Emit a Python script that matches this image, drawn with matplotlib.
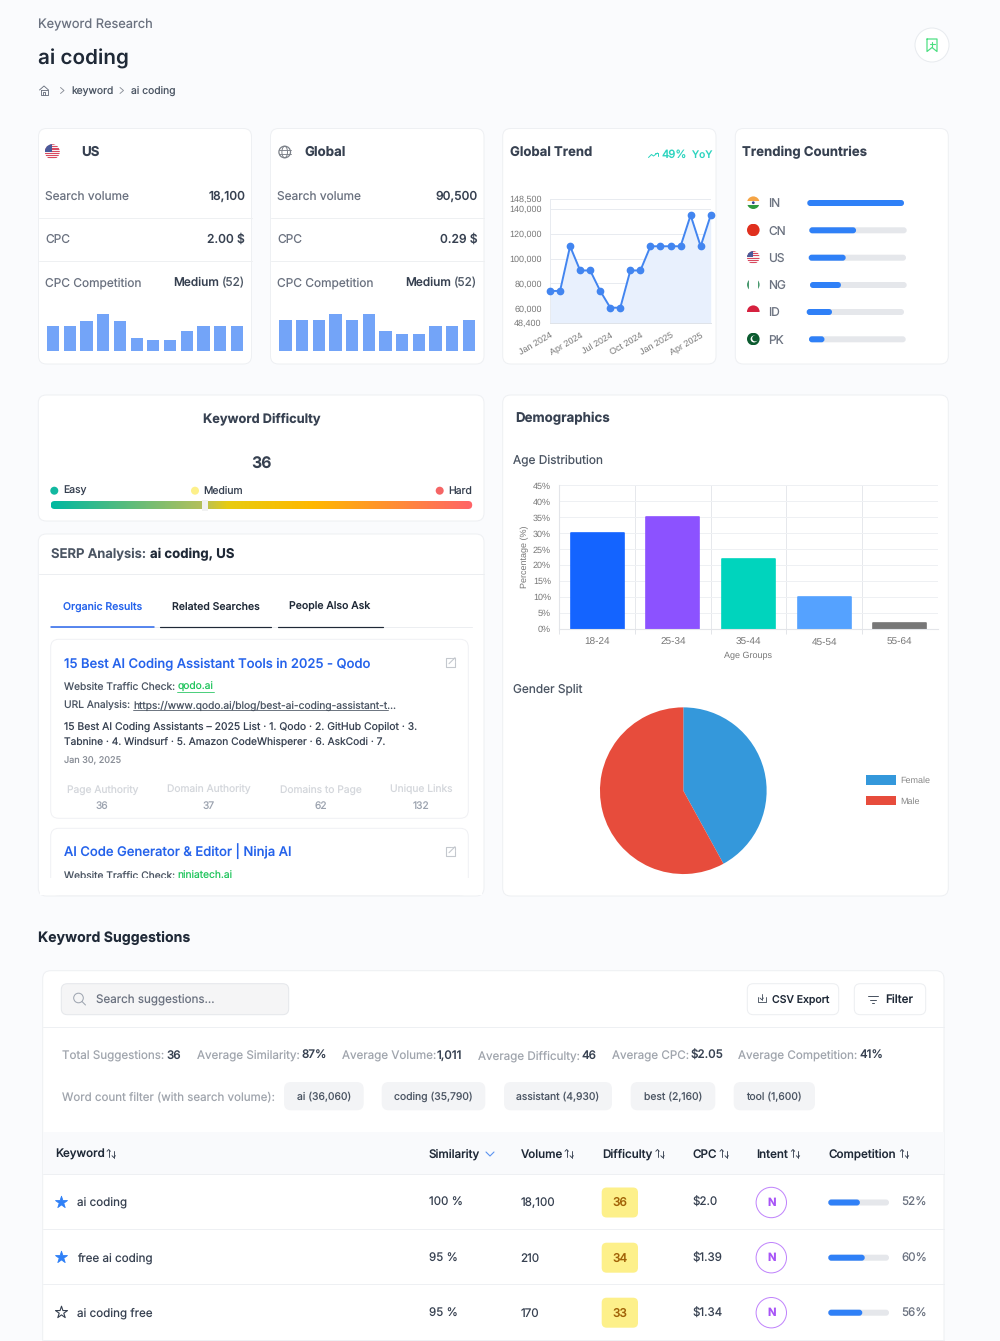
import matplotlib

matplotlib.use("Agg")
import matplotlib.pyplot as plt
import numpy as np
from matplotlib.patches import Circle, Ellipse, FancyBboxPatch, Rectangle

W, H = 1000, 1341
BG = "#fafbfd"
BORDER = "#eef0f3"
INK = "#1f2937"
SLATE = "#374151"
GRAY = "#6b7280"
BLUE = "#2f80f7"
FONT = ["Inter", "DejaVu Sans"]
CHART_FONT = ["Liberation Sans", "DejaVu Sans"]
TEXT_SCALE = 0.72 * 0.93

# card stats
US_VOLUMES = [14800, 14800, 18100, 22200, 18100, 8100, 6600, 6600, 12100, 14800, 14800, 14800]
GLOBAL_VOLUMES = [90500, 90500, 90500, 110000, 90500, 110000, 60500, 49500, 49500, 74000, 74000, 90500]
STAT_ROWS = ["Search volume", "CPC", "CPC Competition"]
US_STATS = ["18,100", "2.00 $", "Medium"]
GLOBAL_STATS = ["90,500", "0.29 $", "Medium"]

# global trend
TREND = [74000, 74000, 110000, 90500, 90500, 74000, 60500, 60500, 90500,
         90500, 110000, 110000, 110000, 110000, 135000, 110000, 135000]
TREND_YTICKS = [48400, 60000, 80000, 100000, 120000, 140000, 148500]
TREND_XTICKS = [0, 3, 6, 9, 12, 15]
TREND_XLABELS = ["Jan 2024", "Apr 2024", "Jul 2024", "Oct 2024", "Jan 2025", "Apr 2025"]

# trending countries
COUNTRIES = ["IN", "CN", "US", "NG", "ID", "PK"]
COUNTRY_SHARE = [100, 48, 38, 32, 26, 16]

# demographics
AGE_GROUPS = ["18-24", "25-34", "35-44", "45-54", "55-64"]
AGE_SHARE = [30, 35, 22, 10, 2]
AGE_COLORS = ["#1464ff", "#8c52ff", "#00d4bd", "#55a2ff", "#777777"]
GENDERS = ["Female", "Male"]
GENDER_SHARE = [42, 58]
GENDER_COLORS = ["#3498db", "#e74c3c"]

# serp
METRIC_NAMES = ["Page Authority", "Domain Authority", "Domains to Page", "Unique Links"]
METRIC_VALUES = ["36", "37", "62", "132"]

# suggestions
SUMMARY = [("Total Suggestions:", "36"), ("Average Similarity:", "87%"),
           ("Average Volume:", "1,011"), ("Average Difficulty:", "46"),
           ("Average CPC:", "$2.05"), ("Average Competition:", "41%")]
CHIPS = ["ai (36,060)", "coding (35,790)", "assistant (4,930)", "best (2,160)", "tool (1,600)"]
COLUMNS = ["Keyword", "Similarity", "Volume", "Difficulty", "CPC", "Intent", "Competition"]
KEYWORDS = ["ai coding", "free ai coding", "ai coding free"]
SIMILARITY = ["100 %", "95 %", "95 %"]
VOLUME = ["18,100", "210", "170"]
DIFFICULTY = [36, 34, 33]
CPC = ["$2.0", "$1.39", "$1.34"]
COMPETITION = [52, 60, 56]
STARRED = [True, True, False]

plt.rcParams["font.family"] = FONT
plt.rcParams["text.hinting"] = "no_hinting"
plt.rcParams["text.hinting_factor"] = 1
fig = plt.figure(figsize=(W / 100, H / 100), dpi=100, facecolor=BG)
bg = fig.add_axes([0, 0, 1, 1], zorder=0)
bg.set_xlim(0, W)
bg.set_ylim(H, 0)
bg.axis("off")


def px_axes(x0, y0, x1, y1):
    ax = fig.add_axes([x0 / W, 1 - y1 / H, (x1 - x0) / W, (y1 - y0) / H], zorder=1)
    ax.patch.set_alpha(0)
    return ax


def txt(x, y, s, size=12, color=SLATE, weight="normal", ha="left", **kw):
    # y is the visual middle of the capitals, so rows stay level whatever the glyphs are
    return bg.text(x, y + 0.30 * size, s, fontsize=size * TEXT_SCALE, color=color, fontweight=weight,
                   ha=ha, va="baseline", **kw)


def box(x0, y0, x1, y1, r=8, fc="white", ec=BORDER, lw=1.0, z=1):
    p = FancyBboxPatch((x0, y0), x1 - x0, y1 - y0, boxstyle=f"round,pad=0,rounding_size={r}",
                       fc=fc, ec=ec, lw=lw * 0.72, zorder=z)
    bg.add_patch(p)
    return p


def line(xs, ys, color=BORDER, lw=1.0, z=2):
    bg.plot(xs, ys, color=color, lw=lw * 0.72, zorder=z, solid_capstyle="round",
            solid_joinstyle="round")


def progress(x0, x1, y, pct, h=6, track="#e5e7eb"):
    box(x0, y - h / 2, x1, y + h / 2, r=h / 2, fc=track, ec="none", z=2)
    box(x0, y - h / 2, x0 + (x1 - x0) * pct / 100, y + h / 2, r=h / 2, fc=BLUE, ec="none", z=3)


def flag(cx, cy, r, code):
    clip = Circle((cx, cy), r, transform=bg.transData)

    def band(y0, y1, c, x0=-1, x1=1):
        p = Rectangle((cx + x0 * r, cy + y0 * r), (x1 - x0) * r, (y1 - y0) * r, fc=c, ec="none", zorder=4)
        bg.add_patch(p)
        p.set_clip_path(clip)

    if code == "US":
        for i in range(7):
            band(-1 + i * 2 / 7, -1 + (i + 0.5) * 2 / 7, "#d9485f")
            band(-1 + (i + 0.5) * 2 / 7, -1 + (i + 1) * 2 / 7, "#f6f0f0")
        band(-1, 0, "#4a5a9a", -1, 0)
    elif code == "IN":
        band(-1, -0.33, "#f5a445")
        band(-0.33, 0.33, "#fbfbfb")
        band(0.33, 1, "#2f9a3f")
        bg.add_patch(Circle((cx, cy), r * 0.22, fc="#33408f", ec="none", zorder=5))
    elif code == "CN":
        band(-1, 1, "#e0301e")
    elif code == "NG":
        band(-1, 1, "#4a9a70", -1, -0.68)
        band(-1, 1, "#4a9a70", 0.68, 1)
    elif code == "ID":
        band(-1, 0, "#d6213f")
    elif code == "PK":
        band(-1, 1, "#0b5b2f")
        bg.add_patch(Circle((cx + 0.12 * r, cy), r * 0.55, fc="white", ec="none", zorder=5))
        bg.add_patch(Circle((cx + 0.3 * r, cy - 0.1 * r), r * 0.48, fc="#0b5b2f", ec="none", zorder=6))


def ext_icon(cx, cy):
    c = "#c4c8ce"
    line([cx + 1, cx - 4.5, cx - 4.5, cx + 4.5, cx + 4.5], [cy - 4.5, cy - 4.5, cy + 4.5, cy + 4.5, cy - 1], c, 1.1, 4)
    line([cx - 1, cx + 5], [cy + 1, cy - 5], c, 1.1, 4)
    line([cx + 1.5, cx + 5, cx + 5], [cy - 5, cy - 5, cy - 1.5], c, 1.1, 4)


def sort_icon(x, y):
    c = "#374151"
    line([x, x], [y - 4, y + 3], c, 0.9, 4)
    line([x - 1.7, x, x + 1.7], [y - 2.2, y - 4, y - 2.2], c, 0.9, 4)
    line([x + 5, x + 5], [y - 3, y + 4], c, 0.9, 4)
    line([x + 3.3, x + 5, x + 6.7], [y + 2.2, y + 4, y + 2.2], c, 0.9, 4)


# --- header ---
txt(38, 24, "Keyword Research", 13.8, GRAY)
txt(38, 58, "ai coding", 22.2, INK, "semibold")
c = "#6b7280"
line([39.5, 44, 48.5], [90, 86, 90], c, 0.9)
line([40.5, 40.5, 47.5, 47.5, 40.5], [89.5, 95, 95, 89.5, 89.5], c, 0.9)
line([43, 43, 45, 45], [95, 91.5, 91.5, 95], c, 0.9)
line([60.5, 64, 60.5], [87.5, 90.5, 93.5], "#8a8f98", 0.9)
txt(71.5, 90.5, "keyword", 11.1, "#4b5563")
line([120, 123.5, 120], [87.5, 90.5, 93.5], "#8a8f98", 0.9)
txt(131, 90.5, "ai coding", 11.1, "#4b5563")
bg.add_patch(Circle((932, 45), 17, fc="white", ec="#e8ebef", lw=0.72, zorder=1))
line([927, 927, 932, 937, 937, 927], [39, 51.5, 47.5, 51.5, 39, 39], "#4ade80", 1.2)
line([932, 932], [41.5, 46.5], "#4ade80", 1.1)
line([929.5, 934.5], [44, 44], "#4ade80", 1.1)

# --- stat cards ---
for x0, x1, name, stats, vols, name_x, ax_x in [
    (38.5, 251.5, "US", US_STATS, US_VOLUMES, 81.5, (44.8, 245.2)),
    (270.5, 484, "Global", GLOBAL_STATS, GLOBAL_VOLUMES, 304.7, (277.1, 477.2)),
]:
    box(x0, 128.5, x1, 364)
    txt(name_x, 151.7, name, 14.3, SLATE, "bold")
    for row, y, val in zip(STAT_ROWS, [196, 239, 282.5], stats):
        txt(x0 + 6.5, y, row, 12.8, "#6b7280")
        if val == "Medium":
            txt(x0 + 206.7, y, "(52)", 12.8, "#4b5563", ha="right")
            txt(x0 + 181, y, val, 12.8, SLATE, "medium", ha="right")
        else:
            txt(x0 + 206.7, y, val, 13, SLATE, "medium", ha="right")
    line([x0, x1], [217.5, 217.5], "#eef0f2")
    line([x0, x1], [260.5, 260.5], "#eef0f2")
    ax = px_axes(ax_x[0], 313.6, ax_x[1], 351.3)
    ax.bar(range(len(vols)), vols, width=0.735, color="#73a4f8")
    ax.set_xlim(-0.5, len(vols) - 0.5)
    ax.set_ylim(0, max(vols))
    ax.axis("off")
flag(52.3, 151.7, 7.5, "US")
bg.add_patch(Circle((284.7, 152), 5.8, fc="none", ec="#7b8088", lw=0.9, zorder=4))
bg.add_patch(Ellipse((284.7, 152), 5.6, 11.4, fc="none", ec="#7b8088", lw=0.7, zorder=4))
line([279, 290.5], [149.8, 149.8], "#7b8088", 0.9, 4)
line([279, 290.5], [154.2, 154.2], "#7b8088", 0.9, 4)

# --- global trend ---
box(502.7, 128.5, 716, 364)
txt(509.5, 152.7, "Global Trend", 14.1, SLATE, "bold")
teal = "#2dd4bf"
line([648.5, 651.5, 653.5, 657.5], [157.5, 154.5, 156, 153], teal, 1.0)
line([655, 658, 658], [153, 153, 155.5], teal, 1.0)
txt(661.5, 154.7, "49%", 12, teal, "medium")
txt(691.5, 154.7, "YoY", 11, teal, "medium")

ax = px_axes(550, 198.5, 710.7, 322.7)
xs = np.arange(len(TREND))
ax.fill_between(xs, TREND, 48400, color="#e8f0fd", lw=0)
ax.plot(xs, TREND, color="#4285f0", lw=1.4, marker="o", ms=6.3 * 0.72, clip_on=False, zorder=4)
ax.set_xlim(0, len(TREND) - 1)
ax.set_ylim(48400, 148500)
ax.set_yticks(TREND_YTICKS, [f"{v:,}" for v in TREND_YTICKS], fontsize=8.7 * 0.72, color="#777777",
              family=CHART_FONT)
ax.set_xticks(TREND_XTICKS, TREND_XLABELS, fontsize=8.7 * 0.72, color="#777777", family=CHART_FONT,
              rotation=30, ha="right", rotation_mode="anchor")
ax.tick_params(axis="x", length=0, pad=6)
ax.tick_params(axis="y", length=0, pad=6)
ax.grid(axis="y", color="#e8ebf0", lw=0.72)
ax.set_axisbelow(True)
for side in ["top", "right"]:
    ax.spines[side].set_visible(False)
ax.spines["left"].set_color("#e8ebf0")
ax.spines["bottom"].set_color("#dfe3e9")
for s in ax.spines.values():
    s.set_linewidth(0.72)

# --- trending countries ---
box(735.3, 128.5, 948.3, 364)
txt(742, 151.7, "Trending Countries", 14.2, SLATE, "bold")
bar_x = [(807.3, 904), (809.3, 906.7), (808.7, 906), (810, 906.7), (806.7, 904), (809, 905.7)]
bar_y = [203, 230.3, 257.7, 285, 312, 339.3]
for code, share, (x0, x1), y in zip(COUNTRIES, COUNTRY_SHARE, bar_x, bar_y):
    flag(753.3, y - 0.3, 6.3, code)
    txt(768.5, y + 0.5, code, 12.8, "#6b7280")
    progress(x0, x1, y, share)

# --- keyword difficulty ---
box(38.3, 395, 484, 521)
txt(261.5, 418, "Keyword Difficulty", 13.8, SLATE, "bold", ha="center")
txt(261.5, 463.5, "36", 17, SLATE, "bold", ha="center")
for dx, tx, s, col in [(54.3, 63.3, "Easy", "#12b8a0"), (195, 203.3, "Medium", "#fdf08a"), (439.7, 448, "Hard", "#f56565")]:
    bg.add_patch(Circle((dx, 490.7), 4, fc=col, ec="none", zorder=3))
    txt(tx, 490.7, s, 11.2, "#374151")
clip = FancyBboxPatch((50.7, 501), 421.5, 8, boxstyle="round,pad=0,rounding_size=4", fc="none", ec="none",
                      transform=bg.transData)
bg.add_patch(clip)
grad_colors = matplotlib.colors.LinearSegmentedColormap.from_list(
    "kd", [(0, "#00b8a0"), (0.36, "#b5c05a"), (0.42, "#e8cc10"), (0.62, "#ffb800"), (1, "#ff6468")])
img = bg.imshow(np.linspace(0, 1, 256)[None, :], extent=(50.7, 472.2, 509, 501), cmap=grad_colors, aspect="auto", zorder=3)
img.set_clip_path(clip)
bg.set_xlim(0, W)
bg.set_ylim(H, 0)
bg.add_patch(Rectangle((202, 499.7), 6, 11.5, fc="#f1f2f2", ec="none", zorder=4))

# --- serp ---
box(38.3, 534, 484, 896)
txt(51, 554, "SERP Analysis:", 14.1, "#4b5563", "semibold")
txt(150, 554, "ai coding, US", 14.2, INK, "bold")
line([38.5, 484], [574.3, 574.3], "#eceef1")
line([50.7, 471.7], [626.5, 626.5], "#eceef1", 1)
for s, cx, col, (ux0, ux1) in [("Organic Results", 102.5, "#2563eb", (50.7, 154)),
                               ("Related Searches", 216, "#1f2937", (160, 271.3)),
                               ("People Also Ask", 330, "#1f2937", (277.7, 382.7))]:
    txt(cx, 606, s, 11.3, col, "medium", ha="center")
    line([ux0, ux1], [626.5, 626.5], col, 1.5 if col == "#2563eb" else 1.2, 3)

box(50.7, 639.3, 468.3, 818.3, fc="white", ec="#f0f1f4", z=2)
link = "#2563eb"
txt(64, 662.7, "15 Best AI Coding Assistant Tools in 2025 - Qodo", 14.05, link, "medium", zorder=3)
ext_icon(450, 662.7)
txt(64, 687, "Website Traffic Check:", 11, "#4b5563", zorder=3)
txt(177.3, 687, "qodo.ai", 11, "#22c55e", zorder=3)
line([177.3, 213.5], [692.3, 692.3], "#22c55e", 0.8, 3)
txt(64, 705.3, "URL Analysis:", 11, "#4b5563", zorder=3)
txt(133.3, 705.3, "https://www.qodo.ai/blog/best-ai-coding-assistant-t...", 11, "#4b5563", zorder=3)
line([133.3, 388], [710.3, 710.3], "#4b5563", 0.8, 3)
txt(64, 726.3, "15 Best AI Coding Assistants \u2013 2025 List \u00b7 1. Qodo \u00b7 2. GitHub Copilot \u00b7 3.", 11.2, "#374151", zorder=3)
txt(64, 741.7, "Tabnine \u00b7 4. Windsurf \u00b7 5. Amazon CodeWhisperer \u00b7 6. AskCodi \u00b7 7.", 11, "#374151", zorder=3)
txt(64, 760.7, "Jan 30, 2025", 9.8, "#8a8f98", zorder=3)
for name, val, cx in zip(METRIC_NAMES, METRIC_VALUES, [102.3, 209, 320.7, 421.3]):
    txt(cx, 790, name, 11, "#d4d7dc", ha="center", zorder=3)
    txt(cx, 805.3, val, 11, "#9ca3af", ha="center", zorder=3)

box(50.7, 828.3, 468.3, 895, fc="white", ec="#f0f1f4", z=2)
txt(64, 851.7, "AI Code Generator & Editor | Ninja AI", 14.05, link, "medium", zorder=3)
ext_icon(450, 851.7)
txt(64, 875.3, "Website Traffic Check:", 11, "#4b5563", zorder=3)
txt(177.3, 875.3, "ninjatech.ai", 11, "#22c55e", zorder=3)
bg.add_patch(Rectangle((40, 877.5), 442, 17.5, fc="white", ec="none", zorder=5))

# --- demographics ---
box(502.7, 395, 948.3, 896)
txt(515.7, 417.7, "Demographics", 14.3, SLATE, "bold")
txt(513, 460, "Age Distribution", 12.8, "#4b5563")
ax = px_axes(559.3, 485.3, 937.7, 629)
ax.bar(range(len(AGE_SHARE)), AGE_SHARE, width=0.7, color=AGE_COLORS, edgecolor=AGE_COLORS, lw=1.2, joinstyle="round")
ax.set_xlim(-0.5, len(AGE_SHARE) - 0.5)
ax.set_ylim(0, 45)
ax.set_yticks(range(0, 50, 5), [f"{v}%" for v in range(0, 50, 5)], fontsize=9.5 * 0.72, color="#777777",
              family=CHART_FONT)
ax.set_xticks(range(len(AGE_GROUPS)), AGE_GROUPS, fontsize=9.8 * 0.72, color="#777777", family=CHART_FONT,
              va="baseline")
ax.set_xticks(np.arange(-0.5, len(AGE_GROUPS) - 0.5), minor=True)
ax.tick_params(axis="both", which="major", length=0)
ax.tick_params(axis="y", pad=6)
ax.tick_params(axis="x", pad=11.8)
ax.tick_params(axis="x", which="minor", length=3.6, color="#e3e5e9", width=0.72)
ax.grid(axis="y", color="#eef0f3", lw=0.72)
ax.grid(axis="x", which="minor", color="#e6e8ec", lw=0.72)
ax.set_axisbelow(True)
for side in ["top", "right"]:
    ax.spines[side].set_visible(False)
ax.spines["left"].set_color("#e3e5e9")
ax.spines["bottom"].set_color("#e3e5e9")
ax.set_ylabel("Percentage (%)", fontsize=8.9 * 0.72, color="#777777", family=CHART_FONT, labelpad=3)
ax.text(0.5, -0.19, "Age Groups", transform=ax.transAxes, fontsize=9.3 * 0.72, color="#777777",
        family=CHART_FONT, ha="center", va="center")

txt(513, 689, "Gender Split", 12.8, "#4b5563")
pie_ax = px_axes(683.3 - 84, 790.7 - 84, 683.3 + 84, 790.7 + 84)
wedges, _ = pie_ax.pie(GENDER_SHARE, colors=GENDER_COLORS, startangle=90, counterclock=False, radius=1.0)
pie_ax.set_xlim(-1.008, 1.008)
pie_ax.set_ylim(-1.008, 1.008)
for name, col, y in zip(GENDERS, GENDER_COLORS, [780, 800.7]):
    bg.add_patch(Rectangle((865.7, y - 4.7), 30.3, 9.4, fc=col, ec="none", zorder=3))
    bg.text(900.7, y + 3.3, name, fontsize=9.3 * 0.72, color="#888888", family=CHART_FONT, va="baseline")

# --- keyword suggestions ---
txt(38, 937.5, "Keyword Suggestions", 15.2, INK, "bold")
box(42.7, 970.7, 944, 1360)
box(61.3, 983.7, 288.7, 1014.7, r=6, fc="#f5f5f6", ec="#e5e7eb")
bg.add_patch(Circle((78.5, 998), 4.8, fc="none", ec="#9ca3af", lw=0.72, zorder=3))
line([82, 85.5], [1001.5, 1005], "#9ca3af", 1)
txt(95.5, 999.3, "Search suggestions...", 12.5, "#6b7280")
box(747.3, 983.7, 838.7, 1014.7, r=6, ec="#eceef1")
box(854.3, 983.7, 925.7, 1014.7, r=6, ec="#eceef1")
line([757.5, 757.5, 766, 766], [997, 1002, 1002, 997], "#4b5563", 0.9)
line([761.7, 761.7], [994, 999.5], "#4b5563", 0.9)
line([760, 761.7, 763.4], [998, 999.7, 998], "#4b5563", 0.9)
txt(772, 999.3, "CSV Export", 11.3, "#1f2937", "medium")
line([868, 877.5], [996, 996], "#4b5563", 1)
line([870, 875.5], [999.5, 999.5], "#4b5563", 1)
line([871.7, 873.8], [1003, 1003], "#4b5563", 1)
txt(885.5, 999.3, "Filter", 12.5, "#1f2937", "medium")
line([42.7, 944], [1027.3, 1027.3], "#eef0f3")

summary_x = [(61.5, 166.3), (196.7, 301), (341.7, 436.7), (478, 581.7), (612, 691), (738, 859.3)]
for (label, val), (lx, vx) in zip(SUMMARY, summary_x):
    txt(lx, 1055.3, label, 12.5, "#a0a5ad")
    txt(vx, 1055.3, val, 12.5, "#374151", "medium")
txt(61.5, 1096.7, "Word count filter (with search volume):", 12.4, "#a0a5ad")
chip_x = [(284, 363.7), (381.7, 485.3), (504, 612), (630.7, 715.3), (733.7, 815)]
for s, (x0, x1) in zip(CHIPS, chip_x):
    box(x0, 1082, x1, 1110.3, r=7, fc="#f3f4f6", ec="none", z=2)
    txt((x0 + x1) / 2, 1096.7, s, 11.2, "#4b5563", ha="center")

# --- table ---
bg.add_patch(Rectangle((43.2, 1132.3), 900.3, 42, fc="#f9fafc", ec="none", zorder=2))
line([43.2, 943.5], [1174.3, 1174.3], "#eef0f3", 1, 3)
col_x = [55, 429, 520.7, 602, 692.3, 756.3, 828.7]
sort_x = [108.7, None, 566.7, 657.5, 721.7, 793, 902]
for name, x, sx in zip(COLUMNS, col_x, sort_x):
    txt(x, 1153.7, name, 12.5, "#1f2937", "medium", zorder=4)
    if sx:
        sort_icon(sx, 1153.5)
line([486, 490, 494], [1152, 1156, 1152], "#5b93f0", 1.1, 4)

row_y = [1202.5, 1257.7, 1312.7]
for y, kw, sim, vol, diff, cpc, comp, star in zip(row_y, KEYWORDS, SIMILARITY, VOLUME, DIFFICULTY, CPC, COMPETITION, STARRED):
    bg.scatter([61.3], [y - 0.5], s=82, marker="*", c=BLUE if star else "white",
               edgecolors=BLUE if star else "#374151", linewidths=0.6 if star else 0.8, zorder=4)
    txt(76.7, y, kw, 12.5, "#374151")
    txt(429, y, sim, 12.5, "#374151")
    txt(520.7, y, vol, 12.5, "#374151")
    box(601.7, y - 15, 638, y + 15, r=5, fc="#fdf08a", ec="none", z=3)
    txt(619.8, y, str(diff), 12.8, "#a16207", "medium", ha="center", zorder=4)
    txt(692.3, y, cpc, 12.5, "#374151")
    bg.add_patch(Circle((771.3, y), 15.2, fc="white", ec="#c084fc", lw=0.72, zorder=3))
    txt(771.3, y, "N", 12, "#a855f7", "bold", ha="center", zorder=4)
    progress(828.3, 889, y, comp)
    txt(901.7, y, f"{comp}%", 12.5, "#6b7280")
for y in [1229.3, 1284.3, 1340]:
    line([43.2, 943.5], [y, y], "#eef0f3", 1, 3)

fig.savefig("out.png", dpi=100, facecolor=BG)
